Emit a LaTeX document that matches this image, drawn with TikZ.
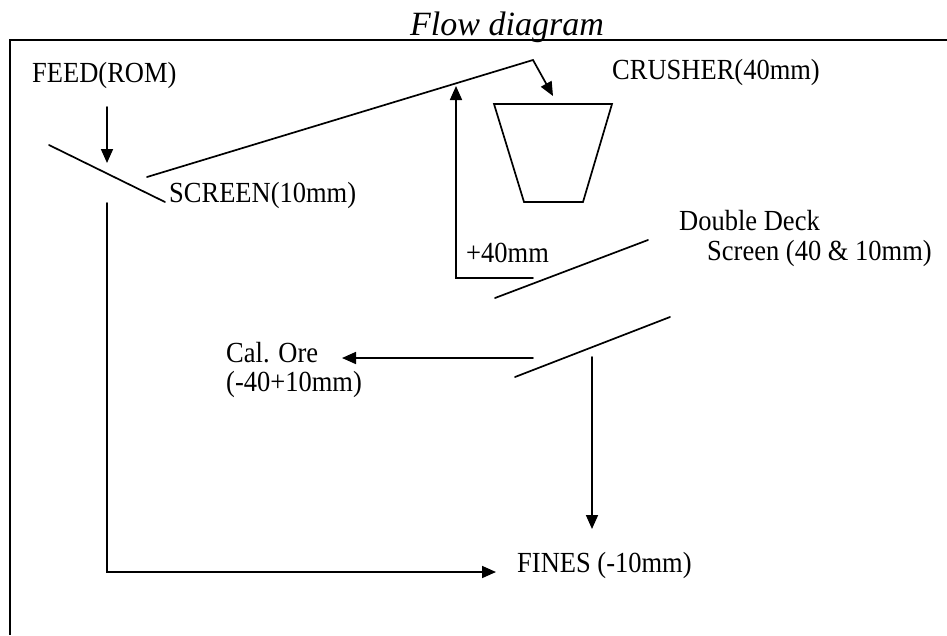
\documentclass[tikz,border=0pt]{standalone}
\usepackage{fontspec}
\setmainfont{Liberation Serif}
\usetikzlibrary{arrows.meta}
\newcommand{\vst}[1]{\scalebox{1}[1.1]{#1}}
\begin{document}
\begin{tikzpicture}[x=1pt,y=-1pt,
  lbl/.style={anchor=base west, inner sep=0pt, font=\fontsize{26.5}{30}\selectfont},
  ttl/.style={anchor=base west, inner sep=0pt, font=\fontsize{34}{38}\selectfont\itshape},
  ln/.style={line width=1.7pt, line cap=round, line join=miter},
  arr/.style={ln, -{Triangle[length=14pt,width=12pt]}}]
\useasboundingbox (0,0) rectangle (947,635);
% frame
\coordinate (fTL) at (10,40);
\coordinate (fTR) at (947,40);
\coordinate (fBL) at (10,635);
\draw[line width=2pt] (fTR) -- (fTL) -- (fBL);
% title
\node[ttl] (title) at (410,35) {Flow diagram};
% texts
\node[lbl] (feed) at (32,82) {\vst{FEED(ROM)}};
\node[lbl] (scr) at (169,202) {\vst{SCREEN(10mm)}};
\node[lbl] (crush) at (612,79) {\vst{CRUSHER(40mm)}};
\node[lbl] (p40) at (466,262) {\vst{+40mm}};
\node[lbl] (dd1) at (679,230) {\vst{Double Deck}};
\node[lbl] (dd2) at (707,260) {\vst{Screen (40 \& 10mm)}};
\node[lbl] (cal1) at (226,362) {\vst{Cal. Ore}};
\node[lbl] (cal2) at (226,391) {\vst{(-40+10mm)}};
\node[lbl] (fines) at (517,572) {\vst{FINES (-10mm)}};
% feed arrow and screen 1
\coordinate (feedA) at (107,107);
\coordinate (feedB) at (107,163);
\draw[arr] (feedA) -- (feedB);
\coordinate (s1a) at (49,145);
\coordinate (s1b) at (165,202);
\draw[ln] (s1a) -- (s1b);
% oversize to crusher
\coordinate (ov0) at (147,177);
\coordinate (ov1) at (533,60);
\coordinate (ov2) at (553,96);
\draw[arr] (ov0) -- (ov1) -- (ov2);
% crusher
\coordinate (c1) at (494,104);
\coordinate (c2) at (612,104);
\coordinate (c3) at (583,202);
\coordinate (c4) at (524,202);
\draw[ln, line join=miter] (c1) -- (c2) -- (c3) -- (c4) -- cycle;
% return +40mm
\coordinate (r0) at (533,278);
\coordinate (r1) at (456,278);
\coordinate (r2) at (456,86);
\draw[arr] (r0) -- (r1) -- (r2);
% double deck screens
\coordinate (d1a) at (495,298);
\coordinate (d1b) at (648,240);
\draw[ln] (d1a) -- (d1b);
\coordinate (d2a) at (515,377);
\coordinate (d2b) at (670,317);
\draw[ln] (d2a) -- (d2b);
% cal ore arrow
\coordinate (ca0) at (533,358);
\coordinate (ca1) at (342,358);
\draw[arr] (ca0) -- (ca1);
% fines arrows
\coordinate (fa0) at (592,357);
\coordinate (fa1) at (592,529);
\draw[arr] (fa0) -- (fa1);
\coordinate (fb0) at (107,203);
\coordinate (fb1) at (107,572);
\coordinate (fb2) at (496,572);
\draw[arr] (fb0) -- (fb1) -- (fb2);
\end{tikzpicture}
\end{document}
